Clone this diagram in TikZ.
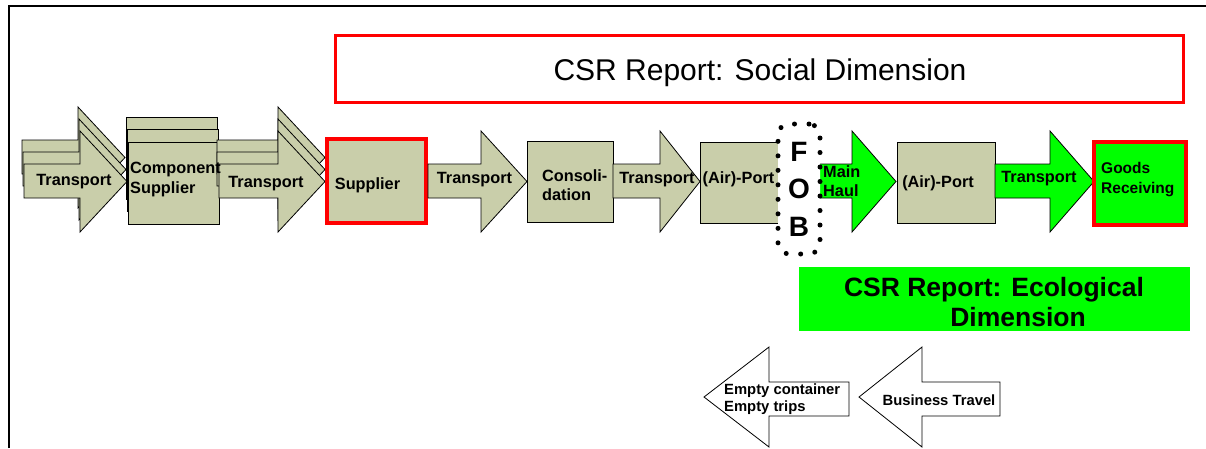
\documentclass[tikz,border=0pt]{standalone}
\usepackage{fontspec}
\setmainfont{Liberation Sans}
\definecolor{chainolive}{RGB}{201,206,170}
\definecolor{ecogreen}{RGB}{0,255,0}
\definecolor{csrred}{RGB}{255,0,0}

% right-pointing block arrow of the supply chain row
% #1 style, #2 left end of shaft, #3 start of head, #4 tip
\newcommand{\chainarrow}[4]{%
  \draw[#1] (#2,164) -- (#3,164) -- (#3,131) -- (#4,181.5) -- (#3,232)
    -- (#3,198) -- (#2,198) -- cycle;}
% left-pointing block arrow of the return flows
% #1 style, #2 tip, #3 base of head, #4 right end of shaft
\newcommand{\returnarrow}[4]{%
  \draw[#1] (#2,397) -- (#3,347) -- (#3,382) -- (#4,382) -- (#4,416)
    -- (#3,416) -- (#3,447) -- cycle;}

\tikzset{
  oliveflow/.style={fill=chainolive, draw=black, line width=0.8pt, line join=miter},
  greenflow/.style={fill=ecogreen, draw=black, line width=0.8pt, line join=miter},
  whiteflow/.style={fill=white, draw=black, line width=0.8pt, line join=miter},
  stationbox/.style={rectangle, fill=chainolive, draw=black, line width=0.8pt, inner sep=0pt},
  keybox/.style={rectangle, fill=chainolive, draw=csrred, line width=3.5pt, inner sep=0pt},
  goodsbox/.style={rectangle, fill=ecogreen, draw=csrred, line width=4pt, inner sep=0pt},
  lbl/.style={font=\bfseries\fontsize{16.3}{19.5}\selectfont, inner sep=0pt},
  lbltwo/.style={lbl, anchor=west, align=left},
  fobbox/.style={rectangle, rounded corners=11pt, fill=white, draw=black,
    line width=5pt, line cap=round, dash pattern=on 0pt off 14.5pt,
    align=center, inner sep=0pt,
    font=\bfseries\fontsize{28}{37.5}\selectfont},
}

\begin{document}
\begin{tikzpicture}[x=1pt, y=-1pt]
\useasboundingbox (0,0) rectangle (1206,448);

% frame
\draw[line width=2pt] (9,448) -- (9,6) -- (1206,6);

% social dimension report
\node[rectangle, draw=csrred, line width=3pt, minimum width=848, minimum height=67]
  (social) at (759,69) {};
\node[font=\fontsize{30}{36}\selectfont, anchor=base, inner sep=0pt]
  (socialtext) at (760,80) {CSR Report: Social Dimension};

% ecological dimension report
\node[rectangle, fill=ecogreen, minimum width=391, minimum height=64, inner sep=0pt]
  (eco) at (994.5,299) {};
\node[font=\bfseries\fontsize{26.5}{30}\selectfont, align=center, inner sep=0pt]
  (ecotext) at (994,302.4) {CSR Report: Ecological\\\hspace*{48pt}Dimension};

% transport to the component supplier (stacked)
\begin{scope}[shift={(-2,-24)}]\chainarrow{oliveflow}{24}{80}{127}\end{scope}
\begin{scope}[shift={(-1,-12)}]\chainarrow{oliveflow}{24}{80}{127}\end{scope}
\chainarrow{oliveflow}{24}{80}{127}
\node[lbl, anchor=base] (t1) at (74,185) {Transport};

% component suppliers (stacked)
\node[stationbox, minimum width=91, minimum height=82] (comp3) at (171.5,158) {};
\node[stationbox, minimum width=91, minimum height=82] (comp2) at (172.5,170) {};
\node[stationbox, minimum width=91, minimum height=82] (comp) at (173.5,183) {};

% transport to the supplier (stacked)
\begin{scope}[shift={(0,-24)}]\chainarrow{oliveflow}{217}{278}{325}\end{scope}
\begin{scope}[shift={(0,-12)}]\chainarrow{oliveflow}{217}{278}{325}\end{scope}
\chainarrow{oliveflow}{219}{278}{325}
\node[lbl, anchor=base] (t2) at (266,187) {Transport};
\node[lbltwo] (complbl) at (130,179.5) {Component\\Supplier};

% supplier
\node[keybox, minimum width=99, minimum height=84] (sup) at (376.5,181) {};
\node[lbl, anchor=base] (suplbl) at (367.5,189) {Supplier};

\chainarrow{oliveflow}{428}{481}{527}
\node[lbl, anchor=base] (t3) at (474.5,183) {Transport};

% consolidation
\node[stationbox, minimum width=86, minimum height=81] (cons) at (570,181.5) {};
\node[lbltwo] (conslbl) at (542,185) {Consoli-\\dation};

\chainarrow{oliveflow}{613}{660}{700}
\node[lbl, anchor=base] (t4) at (657,183) {Transport};

% port of loading
\node[stationbox, minimum width=78, minimum height=81] (ap1) at (739,182.5) {};
\node[lbl, anchor=base] (ap1lbl) at (738.5,183) {(Air)-Port};

% main haul
\chainarrow{greenflow}{805}{852}{896}

% free on board boundary
\node[fobbox, minimum width=42, minimum height=130] (fob) at (799,189) {F\\O\\B};
\node[lbltwo] (mainlbl) at (823,181) {Main\\Haul};

% port of discharge
\node[stationbox, minimum width=98, minimum height=81] (ap2) at (946,182.5) {};
\node[lbl, anchor=base] (ap2lbl) at (938,187) {(Air)-Port};

\chainarrow{greenflow}{995}{1050}{1094}
\node[lbl, anchor=base] (t6) at (1039,182) {Transport};

% goods receiving
\node[goodsbox, minimum width=92, minimum height=83] (goods) at (1140,183.5) {};
\node[lbltwo, font=\bfseries\fontsize{15.5}{20}\selectfont] (goodslbl) at (1101,179.5) {Goods\\Receiving};

% return flows
\returnarrow{whiteflow}{704}{769}{849}
\node[lbltwo, font=\bfseries\fontsize{14.8}{17}\selectfont] (emptylbl) at (724,398.8)
  {Empty container\\Empty trips};
\returnarrow{whiteflow}{859}{922}{1000}
\node[font=\bfseries\fontsize{14.8}{17}\selectfont, anchor=base, inner sep=0pt]
  (travellbl) at (939,405) {Business Travel};
\end{tikzpicture}
\end{document}
